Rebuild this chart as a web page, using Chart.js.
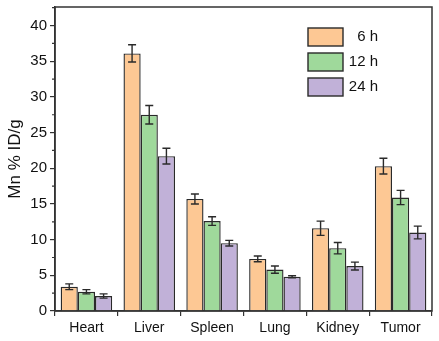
<!DOCTYPE html>
<html>
<head>
<meta charset="utf-8">
<script src="https://cdn.jsdelivr.net/npm/chart.js@4.4.0/dist/chart.umd.min.js"></script>
<style>
  html, body { margin: 0; padding: 0; background: #fff; }
  #wrap { width: 439px; height: 341px; }
</style>
</head>
<body>
<div id="wrap"><canvas id="chart" width="439" height="341"></canvas></div>
<script>
// ===== data =====
const organs = ["Heart", "Liver", "Spleen", "Lung", "Kidney", "Tumor"];
const seriesNames = ["6 h", "12 h", "24 h"];

const mn6h  = [3.4, 36.1, 15.7, 7.3, 11.6, 20.3];
const mn12h = [2.7, 27.5, 12.6, 5.8, 8.8, 15.9];
const mn24h = [2.1, 21.7, 9.5, 4.8, 6.3, 11.0];

const err6h  = [0.4, 1.2, 0.7, 0.4, 1.0, 1.1];
const err12h = [0.3, 1.3, 0.6, 0.5, 0.8, 1.0];
const err24h = [0.3, 1.1, 0.4, 0.15, 0.55, 0.9];

const yTicks = [0, 5, 10, 15, 20, 25, 30, 35, 40];

const fills = ["#fdc894", "#9fd99b", "#c1b1d8"];
const ink = "#2a2a2a";
const font = "'Liberation Sans', Arial, sans-serif";

// ===== error bars + frame + minor ticks + legend =====
const extras = {
    id: "extras",
    afterDatasetsDraw(chart) {
        const ctx = chart.ctx;
        const y = chart.scales.y;
        const area = chart.chartArea;

        // error bars
        ctx.save();
        ctx.strokeStyle = ink;
        ctx.lineWidth = 1.4;
        chart.data.datasets.forEach((ds, i) => {
            const meta = chart.getDatasetMeta(i);
            meta.data.forEach((bar, j) => {
                const v = ds.data[j], e = ds.errors[j];
                const top = y.getPixelForValue(v + e);
                const bot = y.getPixelForValue(v - e);
                ctx.beginPath();
                ctx.moveTo(bar.x, top); ctx.lineTo(bar.x, bot);
                ctx.moveTo(bar.x - 4, top); ctx.lineTo(bar.x + 4, top);
                ctx.moveTo(bar.x - 4, bot); ctx.lineTo(bar.x + 4, bot);
                ctx.stroke();
            });
        });

        // frame
        ctx.lineWidth = 1.5;
        ctx.strokeStyle = "#333";
        ctx.strokeRect(area.left, area.top, area.right - area.left, area.bottom - area.top);

        // minor y ticks
        ctx.lineWidth = 1.2;
        ctx.beginPath();
        for (let k = 0; k < yTicks.length; k++) {
            const py = y.getPixelForValue(yTicks[k] + 2.5);
            ctx.moveTo(area.left, py); ctx.lineTo(area.left - 3, py);
        }
        ctx.stroke();

        // legend
        ctx.font = "15px " + font;
        ctx.textAlign = "right";
        ctx.textBaseline = "middle";
        chart.data.datasets.forEach((ds, i) => {
            const bx = 308, by = 28 + i * 25;
            ctx.fillStyle = ds.backgroundColor;
            ctx.fillRect(bx, by, 35, 18);
            ctx.strokeStyle = ink;
            ctx.lineWidth = 1.4;
            ctx.strokeRect(bx, by, 35, 18);
            ctx.fillStyle = "#111";
            ctx.fillText(ds.label, 378, by + 9);
        });
        ctx.restore();
    }
};

const datasets = [mn6h, mn12h, mn24h].map((vals, i) => ({
    label: seriesNames[i],
    data: vals,
    errors: [err6h, err12h, err24h][i],
    backgroundColor: fills[i],
    borderColor: ink,
    borderWidth: 1.4,
    borderSkipped: "start",
    categoryPercentage: 0.82,
    barPercentage: 1.0
}));

new Chart(document.getElementById("chart"), {
    type: "bar",
    data: { labels: organs, datasets },
    options: {
        responsive: false,
        animation: false,
        devicePixelRatio: 1,
        layout: { padding: { top: 7, right: 7, left: 0, bottom: 0 } },
        plugins: { legend: { display: false }, tooltip: { enabled: false } },
        scales: {
            x: {
                offset: true,
                grid: { display: true, offset: true, drawOnChartArea: false, drawTicks: true, tickLength: 5, color: "#333", lineWidth: 1.2 },
                border: { display: true, color: "#333", width: 1.5 },
                ticks: { color: "#111", font: { family: font, size: 14 }, padding: 4 },
                afterFit(scale) { scale.height = 30; scale.paddingLeft = 0; scale.paddingRight = 0; }
            },
            y: {
                min: 0,
                max: 42.6,
                afterBuildTicks(scale) { scale.ticks = yTicks.map(v => ({ value: v })); },
                grid: { display: true, drawOnChartArea: false, drawTicks: true, tickLength: 5, color: "#333", lineWidth: 1.2 },
                border: { display: true, color: "#333", width: 1.5 },
                ticks: { color: "#111", font: { family: font, size: 15 }, padding: 3 },
                title: { display: true, text: "Mn % ID/g", color: "#111", font: { family: font, size: 17 }, padding: { top: 5, bottom: 2 } },
                afterFit(scale) { scale.width = 55; scale.paddingTop = 0; scale.paddingBottom = 0; }
            }
        }
    },
    plugins: [extras]
});
</script>
</body>
</html>
